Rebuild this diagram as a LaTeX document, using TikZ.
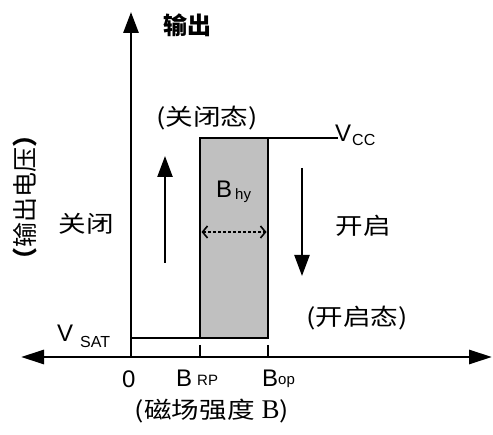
\documentclass[tikz,border=0pt]{standalone}
\usepackage{fontspec}
\setmainfont{Liberation Sans}
\newfontfamily\cjk[FakeStretch=1.2]{Noto Sans CJK SC}
\newfontfamily\cjkplain{Noto Sans CJK SC}
\newfontfamily\serifb{Liberation Serif}
\usetikzlibrary{arrows.meta}
\definecolor{boxgray}{RGB}{192,192,192}
\tikzset{
  axisline/.style={line width=2.9pt},
  thinline/.style={line width=2.4pt},
  bigtip/.style={-{Triangle[length=21pt,width=15pt]}},
  cjklabel/.style={font={\cjk\fontsize{23}{27}\selectfont}, inner sep=0pt},
  biglatin/.style={font={\fontsize{24}{24}\selectfont}, inner sep=0pt, anchor=base west},
  sublatin/.style={font={\fontsize{16}{16}\selectfont}, inner sep=0pt, anchor=base west},
  smallsub/.style={font={\fontsize{15}{15}\selectfont}, inner sep=0pt, anchor=base west},
  hystbox/.style={draw, fill=boxgray, line width=2.5pt, inner sep=0pt, outer sep=0pt,
    minimum width=68pt, minimum height=200pt, anchor=north west},
  hyarrow/.style={line width=1.6pt, dash pattern=on 3pt off 2pt,
    {Straight Barb[length=5pt,width=12pt]}-{Straight Barb[length=5pt,width=12pt]}}
}
\begin{document}
\begin{tikzpicture}[x=1pt,y=-1pt]
\useasboundingbox (0,0) rectangle (493,435);

% axes
\coordinate (O) at (131,357);
\coordinate (xL) at (21,357);
\coordinate (xR) at (492,357);
\coordinate (yT) at (131,12);
\draw[axisline,{Triangle[length=23pt,width=14pt]}-{Triangle[length=23pt,width=14pt]}] (xL) -- (xR);
\draw[axisline,-{Triangle[length=21pt,width=15pt]}] (O) -- (yT);

% hysteresis box
\node[hystbox] (box) at (200,138) {};
\coordinate (vsatL) at (131,338);
\coordinate (vccR) at (338,138);
\draw[thinline] (vsatL) -- (box.south west);
\draw[thinline] (box.north east) -- (vccR);

% ticks
\coordinate (t1a) at (200,345);
\coordinate (t1b) at (200,357);
\coordinate (t2a) at (268,345);
\coordinate (t2b) at (268,357);
\draw[thinline] (t1a) -- (t1b);
\draw[thinline] (t2a) -- (t2b);

% direction arrows
\coordinate (upS) at (165,263);
\coordinate (upE) at (165,156);
\coordinate (dnS) at (302,168);
\coordinate (dnE) at (302,276);
\draw[thinline,bigtip] (upS) -- (upE);
\draw[thinline,bigtip] (dnS) -- (dnE);

% hysteresis width arrow
\coordinate (hyL) at (201.5,232);
\coordinate (hyR) at (266.5,232);
\draw[hyarrow] (hyL) -- (hyR);

% CJK labels
\node[cjklabel, font={\cjkplain\bfseries\fontsize{24}{28}\selectfont}] (out) at (187,25) {输出};
\node[cjklabel] (offstate) at (207,118) {(关闭态)};
\node[cjklabel] (off) at (86,224) {关闭};
\node[cjklabel] (on) at (363,226) {开启};
\node[cjklabel] (onstate) at (357,318) {(开启态)};
\node[cjklabel] (xlabel) at (212,411) {(磁场强度\hspace{7pt}{\serifb\fontsize{27}{27}\selectfont B})};
\node[cjklabel, font={\cjkplain\fontsize{25}{29}\selectfont}, rotate=90] (ylabel) at (25,198) {{\bfseries （}输出电压{\bfseries ）}};

% Latin labels
\node[biglatin] (vsatV) at (57,342) {V};
\node[sublatin] (vsatS) at (80,348) {SAT};
\node[biglatin] (vccV) at (335,142) {V};
\node[sublatin] (vccS) at (352,146) {CC};
\node[biglatin] (zero) at (122,388) {0};
\node[biglatin] (brpB) at (176,387) {B};
\node[smallsub] (brpS) at (197,386) {RP};
\node[biglatin] (bopB) at (262,387) {B};
\node[smallsub] (bopS) at (278,385) {op};
\node[biglatin] (bhyB) at (216,198) {B};
\node[smallsub] (bhyS) at (235,200) {hy};
\end{tikzpicture}
\end{document}
